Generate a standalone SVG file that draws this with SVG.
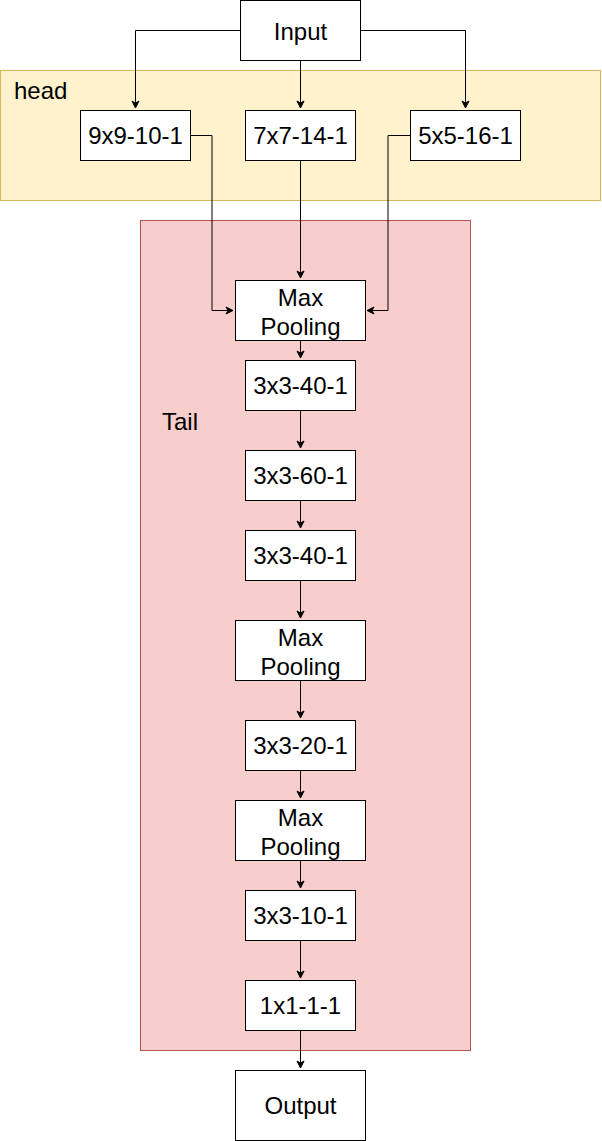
<svg xmlns="http://www.w3.org/2000/svg" width="602" height="1141" viewBox="0 0 602 1141">
<defs>
<style>
.n{fill:#ffffff;stroke:#000000;stroke-width:1}
.t{font-family:"Liberation Sans",Arial,sans-serif;font-size:24px;fill:#000000;text-anchor:middle}
.l{font-family:"Liberation Sans",Arial,sans-serif;font-size:24px;fill:#000000}
.e{fill:none;stroke:#000000;stroke-width:1}
</style>
<marker id="a" markerWidth="10" markerHeight="10" refX="8" refY="5" orient="auto" markerUnits="userSpaceOnUse">
<path d="M1,1.5 L8,5 L1,8.5 L3,5 Z" fill="#000000" stroke="#000000" stroke-width="1"/>
</marker>
</defs>
<rect width="602" height="1141" fill="#ffffff"/>
<g id="head-group">
<rect x="0.5" y="70.5" width="600" height="130" fill="#fff2cc" stroke="#d6b656"/>
<text class="l" x="14" y="99">head</text>
</g>
<g id="tail-group">
<rect x="140.5" y="220.5" width="330" height="830" fill="#f8cecc" stroke="#b85450"/>
<text class="l" x="162" y="430">Tail</text>
</g>
<g id="connectors">
<path class="e" d="M240,30.5 H135.5 V108" marker-end="url(#a)"/>
<path class="e" d="M300.5,60 V108" marker-end="url(#a)"/>
<path class="e" d="M360,30.5 H465.5 V108" marker-end="url(#a)"/>
<path class="e" d="M190,135.5 H212 V310.5 H233" marker-end="url(#a)"/>
<path class="e" d="M300.5,160 V278" marker-end="url(#a)"/>
<path class="e" d="M410,135.5 H388 V310.5 H367" marker-end="url(#a)"/>
<path class="e" d="M300.5,340 V358" marker-end="url(#a)"/>
<path class="e" d="M300.5,410 V448" marker-end="url(#a)"/>
<path class="e" d="M300.5,500 V528" marker-end="url(#a)"/>
<path class="e" d="M300.5,580 V618" marker-end="url(#a)"/>
<path class="e" d="M300.5,680 V718" marker-end="url(#a)"/>
<path class="e" d="M300.5,770 V798" marker-end="url(#a)"/>
<path class="e" d="M300.5,860 V888" marker-end="url(#a)"/>
<path class="e" d="M300.5,940 V978" marker-end="url(#a)"/>
<path class="e" d="M300.5,1030 V1068" marker-end="url(#a)"/>
</g>
<g id="input"><rect class="n" x="240.5" y="0.5" width="120" height="60"/><text class="t" x="300.5" y="40">Input</text></g>
<g id="h1"><rect class="n" x="80.5" y="110.5" width="110" height="50"/><text class="t" x="135.5" y="144">9x9-10-1</text></g>
<g id="h2"><rect class="n" x="245.5" y="110.5" width="110" height="50"/><text class="t" x="300.5" y="144">7x7-14-1</text></g>
<g id="h3"><rect class="n" x="410.5" y="110.5" width="110" height="50"/><text class="t" x="465.5" y="144">5x5-16-1</text></g>
<g id="mp1"><rect class="n" x="235.5" y="280.5" width="130" height="60"/><text class="t" x="300.5" y="306">Max</text><text class="t" x="300.5" y="335">Pooling</text></g>
<g id="c1"><rect class="n" x="245.5" y="360.5" width="110" height="50"/><text class="t" x="300.5" y="394">3x3-40-1</text></g>
<g id="c2"><rect class="n" x="245.5" y="450.5" width="110" height="50"/><text class="t" x="300.5" y="484">3x3-60-1</text></g>
<g id="c3"><rect class="n" x="245.5" y="530.5" width="110" height="50"/><text class="t" x="300.5" y="564">3x3-40-1</text></g>
<g id="mp2"><rect class="n" x="235.5" y="620.5" width="130" height="60"/><text class="t" x="300.5" y="646">Max</text><text class="t" x="300.5" y="675">Pooling</text></g>
<g id="c4"><rect class="n" x="245.5" y="720.5" width="110" height="50"/><text class="t" x="300.5" y="754">3x3-20-1</text></g>
<g id="mp3"><rect class="n" x="235.5" y="800.5" width="130" height="60"/><text class="t" x="300.5" y="826">Max</text><text class="t" x="300.5" y="855">Pooling</text></g>
<g id="c5"><rect class="n" x="245.5" y="890.5" width="110" height="50"/><text class="t" x="300.5" y="924">3x3-10-1</text></g>
<g id="c6"><rect class="n" x="245.5" y="980.5" width="110" height="50"/><text class="t" x="300.5" y="1014">1x1-1-1</text></g>
<g id="output"><rect class="n" x="235.5" y="1070.5" width="130" height="70"/><text class="t" x="300.5" y="1114">Output</text></g>
</svg>
